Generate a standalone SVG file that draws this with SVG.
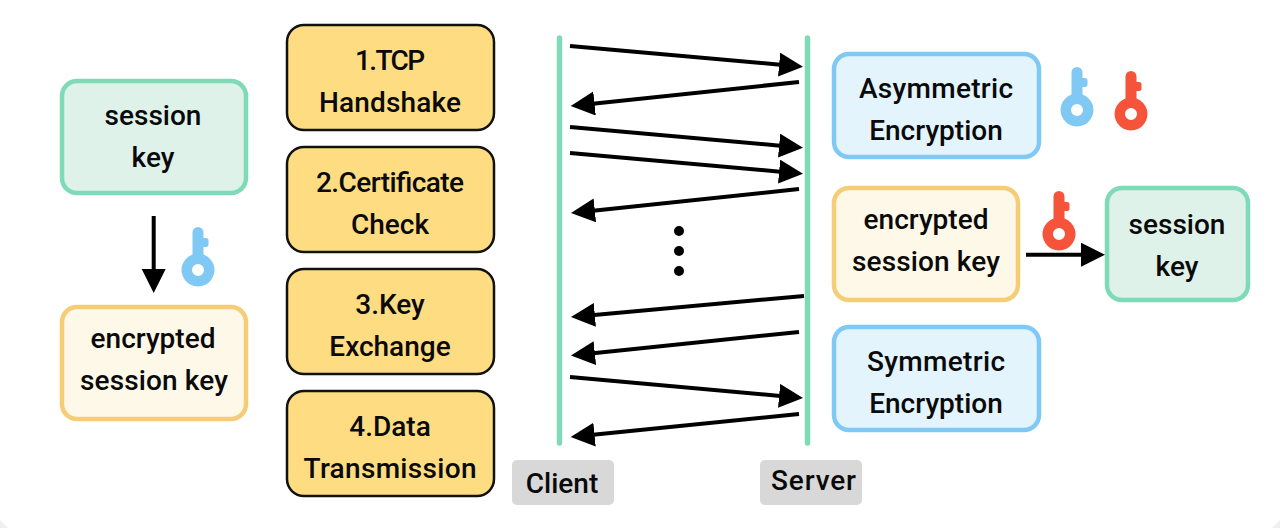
<svg xmlns="http://www.w3.org/2000/svg" width="1280" height="528" viewBox="0 0 1280 528">
<style>
text{font-family:"Roboto","Liberation Sans",sans-serif;font-size:28px;font-weight:500;fill:#0a0a0a;text-anchor:middle}
.s{fill:#dff2ea;stroke:#7fdab8;stroke-width:4.500}
.e{fill:#fef8e8;stroke:#f5cd77;stroke-width:4.500}
.a{fill:#e3f4fd;stroke:#80c9f5;stroke-width:4.500}
.p{fill:#fedc82;stroke:#111;stroke-width:2.500}
.l{stroke:#7fdab8;stroke-width:5.500;stroke-linecap:round}
.c{stroke:#000;stroke-width:4;fill:none;marker-end:url(#h)}
.g{fill:#d8d8d8}
</style>
<defs>
<marker id="h" markerUnits="userSpaceOnUse" markerWidth="26" markerHeight="26" refX="9" refY="12" orient="auto"><path d="M0 0L24 12L0 24Z" fill="#000"/></marker>
<g id="key"><path fill-rule="evenodd" d="M-5.500-37.500a5.500 5.500 0 0 1 11 0V-32h2.500a2.500 2.500 0 0 1 2.500 2.500v4a2.500 2.500 0 0 1-2.500 2.500h-2.500v7.500a16.500 16.500 0 1 1-11 0ZM-6 0a6 6 0 1 0 12 0a6 6 0 1 0-12 0Z"/></g>
</defs>
<rect width="1280" height="528" fill="#fff"/>
<path d="M0 520L8 528H0ZM1280 520L1272 528H1280Z" fill="#efefef"/>
<g id="client-session-key"><rect class="s" x="62" y="81" width="184" height="112" rx="15"/><text x="153" y="125">session</text><text x="153" y="167">key</text></g>
<g id="client-encrypted-key"><rect class="e" x="62" y="307" width="184" height="112" rx="15"/><text x="153" y="348">encrypted</text><text x="154" y="390" textLength="148">session key</text></g>
<g id="step1"><rect class="p" x="287" y="25" width="207" height="105" rx="17"/><text x="390" y="70" textLength="70">1.TCP</text><text x="390" y="112" textLength="142">Handshake</text></g>
<g id="step2"><rect class="p" x="287" y="147" width="207" height="105" rx="17"/><text x="390" y="192" textLength="148">2.Certificate</text><text x="390" y="234">Check</text></g>
<g id="step3"><rect class="p" x="287" y="269" width="207" height="105" rx="17"/><text x="390" y="314">3.Key</text><text x="390" y="356">Exchange</text></g>
<g id="step4"><rect class="p" x="287" y="391" width="207" height="105" rx="17"/><text x="390" y="436">4.Data</text><text x="390" y="478" textLength="173">Transmission</text></g>
<g id="client-label"><rect class="g" x="512" y="460" width="102" height="45" rx="5"/><text x="562" y="493">Client</text></g>
<g id="server-label"><rect class="g" x="760" y="460" width="102" height="45" rx="5"/><text x="813.500" y="490" textLength="85">Server</text></g>
<g id="asymmetric"><rect class="a" x="834" y="54" width="205" height="103" rx="15"/><text x="936" y="98" textLength="154">Asymmetric</text><text x="936" y="140">Encryption</text></g>
<g id="server-encrypted-key"><rect class="e" x="834" y="188" width="184" height="112" rx="15"/><text x="926" y="229">encrypted</text><text x="926" y="271" textLength="148">session key</text></g>
<g id="server-session-key"><rect class="s" x="1107" y="188" width="141" height="112" rx="15"/><text x="1177" y="234">session</text><text x="1177" y="276">key</text></g>
<g id="symmetric"><rect class="a" x="834" y="327" width="205" height="103" rx="15"/><text x="936" y="371" textLength="138">Symmetric</text><text x="936" y="413">Encryption</text></g>
<g id="keys">
<use href="#key" x="198" y="270" fill="#80c9f5"/>
<use href="#key" x="1077" y="110" fill="#80c9f5"/>
<use href="#key" x="1131" y="114" fill="#f5533a"/>
<use href="#key" x="1059" y="234" fill="#f5533a"/>
</g>
<g id="connectors">
<line class="l" x1="559.500" y1="38" x2="559.500" y2="443"/>
<line class="l" x1="807.500" y1="38" x2="807.500" y2="443"/>
<line class="c" x1="570" y1="46" x2="788.060" y2="65.400"/>
<line class="c" x1="799" y1="82" x2="585.600" y2="104.400"/>
<line class="c" x1="570" y1="127" x2="788.060" y2="146.400"/>
<line class="c" x1="570" y1="153" x2="788.060" y2="172.400"/>
<line class="c" x1="799" y1="189" x2="585.900" y2="211.400"/>
<line class="c" x1="804" y1="296" x2="585.900" y2="315.650"/>
<line class="c" x1="799" y1="332" x2="585.900" y2="354"/>
<line class="c" x1="570" y1="377" x2="788.060" y2="396.650"/>
<line class="c" x1="799" y1="414" x2="585.600" y2="435.500"/>
<line class="c" x1="153.700" y1="216" x2="153.700" y2="278"/>
<line class="c" x1="1026" y1="254.700" x2="1090" y2="254.700"/>
<circle cx="679" cy="231" r="5"/><circle cx="679" cy="251" r="5"/><circle cx="679" cy="271" r="5"/>
</g>
</svg>
